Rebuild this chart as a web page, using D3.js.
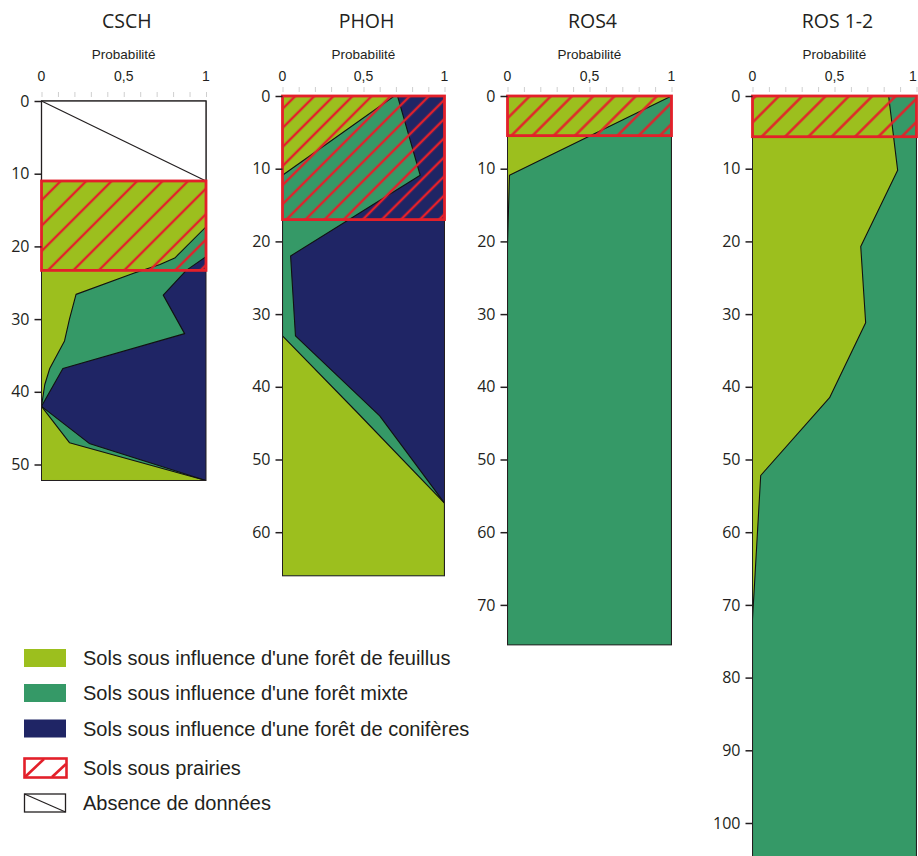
<!DOCTYPE html>
<html><head><meta charset="utf-8">
<script src="https://cdn.jsdelivr.net/npm/d3@7"></script>
<style>body{margin:0;background:#fff}svg{display:block}</style>
</head><body><svg id="c" width="918" height="856"></svg>
<script>
// ---------- DATA ----------
const panelNames = ["CSCH", "PHOH", "ROS4", "ROS 1-2"];
const depthMax = [52.2, 66, 75.5, 106];
const noDataRange = [[0, 11], null, null, null];
const prairieRange = [[11, 23.3], [0, 17], [0, 5.45], [0, 5.6]];
const yTicks = [
  [0, 10, 20, 30, 40, 50],
  [0, 10, 20, 30, 40, 50, 60],
  [0, 10, 20, 30, 40, 50, 60, 70],
  [0, 10, 20, 30, 40, 50, 60, 70, 80, 90, 100]
];
const xTickValues = [0, 0.5, 1];
const xTickLabels = ["0", "0,5", "1"];
const xAxisTitle = "Probabilité";
// cumulative probability of "feuillus" : [depth, value]
const feuillusCum = [
  [[11,1],[17.3,1],[21.6,0.81],[22.5,0.72],[23.7,0.56],[26.6,0.21],[30,0.17],[33,0.14],[36.8,0.05],[39,0.02],[42,0],[47,0.17],[52.2,1]],
  [[0,0.69],[10.9,0],[33,0],[43.5,0.46],[56,1],[66,1]],
  [[0,1],[10.9,0.012],[20.5,0],[75.5,0]],
  [[0,0.83],[10.2,0.885],[20.7,0.66],[31.2,0.69],[41.5,0.47],[52.2,0.05],[72,0],[106,0]]
];
// cumulative probability of "feuillus + mixte" : [depth, value]
const feuillusMixteCum = [
  [[11,1],[21.4,1],[23.3,0.88],[26.7,0.74],[32,0.87],[36.8,0.13],[42,0],[47.1,0.29],[52.2,1]],
  [[0,0.71],[10.9,0.85],[22,0.05],[33,0.08],[44,0.6],[56,1],[66,1]],
  [[0,1],[75.5,1]],
  [[0,1],[106,1]]
];
const legendLabels = [
  "Sols sous influence d'une forêt de feuillus",
  "Sols sous influence d'une forêt mixte",
  "Sols sous influence d'une forêt de conifères",
  "Sols sous prairies",
  "Absence de données"
];

// ---------- STYLE / LAYOUT ----------
const C = {feuillus:"#9cbf1e", mixte:"#359967", conif:"#1f2565", red:"#e3202a", ink:"#231f20"};
const L = {
  plotX:[41.5, 282.5, 507.5, 752.5],
  plotW:[164.5, 162, 164, 164],
  plotTop:[101, 96, 96, 96],
  pxPerUnit:7.27,
  titleY:21, axisTitleY:54, xLabelY:76,
  hatchGap:[18, 13.5, 15, 16.5]
};
const titleFont = "'Open Sans', 'Noto Sans', sans-serif";
const textFont = "'Liberation Sans', Arial, sans-serif";

const svg = d3.select("#c");
const defs = svg.append("defs");

panelNames.forEach((name, i) => {
  const x = d3.scaleLinear().domain([0,1]).range([L.plotX[i], L.plotX[i] + L.plotW[i]]);
  const y = d3.scaleLinear().domain([0, depthMax[i]]).range([L.plotTop[i], L.plotTop[i] + depthMax[i]*L.pxPerUnit]);
  const g = svg.append("g");

  defs.append("clipPath").attr("id","clip"+i).append("rect")
    .attr("x",x(0)).attr("y",y(0)).attr("width",x(1)-x(0)).attr("height",y(depthMax[i])-y(0));
  const gap = L.hatchGap[i];
  const pat = defs.append("pattern").attr("id","hatch"+i).attr("patternUnits","userSpaceOnUse")
    .attr("width",gap).attr("height",gap).attr("patternTransform","rotate(45)");
  pat.append("line").attr("x1",gap/2).attr("x2",gap/2).attr("y1",-1).attr("y2",gap+1)
    .attr("stroke",C.red).attr("stroke-width",2.4);

  const dataStart = noDataRange[i] ? noDataRange[i][1] : 0;
  const plot = g.append("g").attr("clip-path","url(#clip"+i+")");
  plot.append("rect").attr("x",x(0)).attr("y",y(dataStart)).attr("width",x(1)-x(0))
    .attr("height",y(depthMax[i])-y(dataStart)).attr("fill",C.conif);
  const area = d3.area().y(d=>y(d[0])).x0(x(0)).x1(d=>x(d[1]));
  const line = d3.line().x(d=>x(d[1])).y(d=>y(d[0]));
  plot.append("path").datum(feuillusMixteCum[i]).attr("d",area).attr("fill",C.mixte);
  plot.append("path").datum(feuillusCum[i]).attr("d",area).attr("fill",C.feuillus);
  [feuillusMixteCum[i], feuillusCum[i]].forEach(s=>{
    plot.append("path").datum(s).attr("d",line).attr("fill","none")
      .attr("stroke","#111").attr("stroke-width",1.1).attr("stroke-linejoin","round");
  });

  // border
  g.append("rect").attr("x",x(0)).attr("y",y(0)).attr("width",x(1)-x(0))
    .attr("height",y(depthMax[i])-y(0)).attr("fill","none").attr("stroke",C.ink).attr("stroke-width",1);

  // no data
  if (noDataRange[i]) {
    const [a,b] = noDataRange[i];
    g.append("rect").attr("x",x(0)).attr("y",y(a)).attr("width",x(1)-x(0)).attr("height",y(b)-y(a))
      .attr("fill","#fff").attr("stroke",C.ink).attr("stroke-width",1.3);
    g.append("line").attr("x1",x(0)).attr("y1",y(a)).attr("x2",x(1)).attr("y2",y(b))
      .attr("stroke",C.ink).attr("stroke-width",1.2);
  }

  // prairie hatch
  const [p0,p1] = prairieRange[i];
  g.append("rect").attr("x",x(0)).attr("y",y(p0)).attr("width",x(1)-x(0)).attr("height",y(p1)-y(p0))
    .attr("fill","url(#hatch"+i+")");
  g.append("rect").attr("x",x(0)).attr("y",y(p0)).attr("width",x(1)-x(0)).attr("height",y(p1)-y(p0))
    .attr("fill","none").attr("stroke",C.red).attr("stroke-width",2.8);

  // top axis (minor ticks)
  const axT = d3.axisTop(x).tickValues(d3.range(0,11).map(k=>k/10)).tickSize(5).tickFormat("");
  g.append("g").attr("transform",`translate(0,${L.plotTop[i]-4})`).call(axT)
    .call(s=>s.select(".domain").remove())
    .call(s=>s.selectAll("line").attr("stroke","#cfcfcf").attr("stroke-width",1));
  g.selectAll("text.xl").data(xTickValues).join("text").attr("class","xl")
    .attr("x",d=>Math.min(x(d), 913)).attr("y",L.xLabelY).attr("dy","0.36em").attr("text-anchor","middle")
    .attr("font-family",textFont).attr("font-size",14).attr("fill",C.ink)
    .text((d,k)=>xTickLabels[k]);
  g.append("text").attr("x",(x(0)+x(1))/2).attr("y",L.axisTitleY).attr("dy","0.36em")
    .attr("text-anchor","middle").attr("font-family",textFont).attr("font-size",13.5)
    .attr("fill",C.ink).text(xAxisTitle);
  g.append("text").attr("x",(x(0)+x(1))/2+3).attr("y",L.titleY).attr("dy","0.36em")
    .attr("text-anchor","middle").attr("font-family",titleFont).attr("font-size",19.5)
    .attr("fill",C.ink).text(name);

  // left axis
  const axL = d3.axisLeft(y).tickValues(yTicks[i]).tickSize(7).tickPadding(5).tickFormat(d3.format("d"));
  g.append("g").attr("transform",`translate(${x(0)},0)`).call(axL)
    .call(s=>s.select(".domain").remove())
    .call(s=>s.selectAll("line").attr("stroke",C.ink).attr("stroke-width",1.5))
    .call(s=>s.selectAll("text").attr("font-family",titleFont).attr("font-size",16).attr("fill",C.ink));
});

// ---------- LEGEND ----------
const legendY = [658, 693, 728.5, 768, 803];
const leg = svg.append("g");
legendLabels.forEach((lab, k) => {
  const cy = legendY[k];
  if (k < 3) {
    leg.append("rect").attr("x",24).attr("y",cy-9).attr("width",42).attr("height",18)
      .attr("fill",[C.feuillus,C.mixte,C.conif][k]);
  } else if (k === 3) {
    leg.append("rect").attr("x",24.5).attr("y",cy-9.5).attr("width",42).attr("height",19)
      .attr("fill","#fff").attr("stroke",C.red).attr("stroke-width",2.6);
    leg.append("line").attr("x1",25).attr("y1",cy+9).attr("x2",44).attr("y2",cy-9)
      .attr("stroke",C.red).attr("stroke-width",2.6);
    leg.append("line").attr("x1",52).attr("y1",cy+9).attr("x2",66).attr("y2",cy-4)
      .attr("stroke",C.red).attr("stroke-width",2.6);
  } else {
    leg.append("rect").attr("x",24.5).attr("y",cy-9).attr("width",41).attr("height",18)
      .attr("fill","#fff").attr("stroke",C.ink).attr("stroke-width",1.3);
    leg.append("line").attr("x1",24.5).attr("y1",cy-9).attr("x2",65.5).attr("y2",cy+9)
      .attr("stroke",C.ink).attr("stroke-width",1.2);
  }
  leg.append("text").attr("x",83).attr("y",cy).attr("dy","0.36em")
    .attr("font-family",textFont).attr("font-size",20).attr("fill",C.ink).text(lab);
});
</script></body></html>
